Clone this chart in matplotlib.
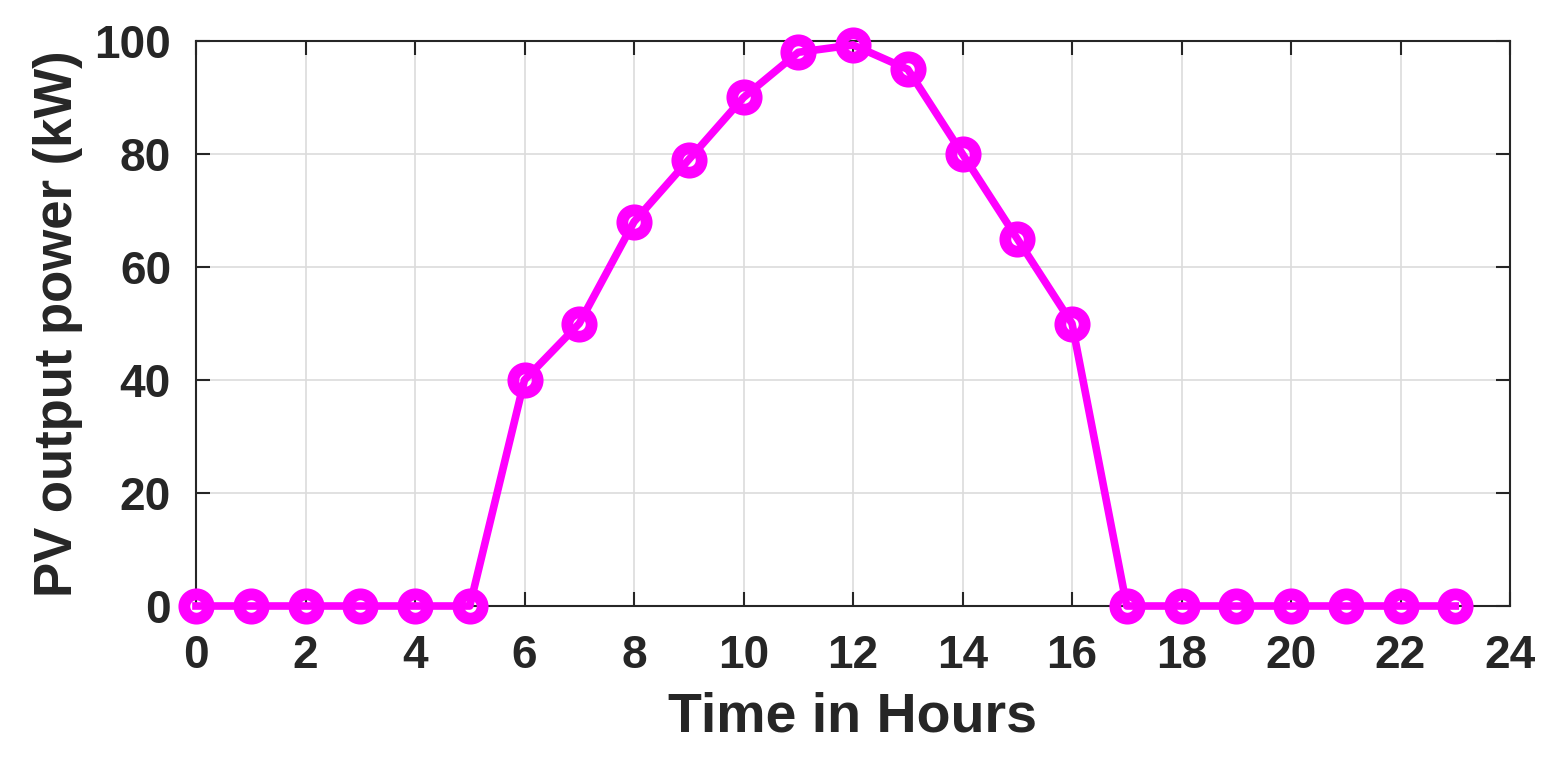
import matplotlib.pyplot as plt
import numpy as np

hours = list(range(24))
pv_power = [0, 0, 0, 0, 0, 0, 40, 50, 68, 79, 90, 98, 99.3, 95, 80, 65, 50,
            0, 0, 0, 0, 0, 0, 0]
xticks = list(range(0, 25, 2))
yticks = list(range(0, 101, 20))

plt.rcParams['font.family'] = ['Liberation Sans', 'DejaVu Sans']
plt.rcParams['font.weight'] = 'bold'

fig = plt.figure(figsize=(15.6, 7.63), dpi=100)
ax = fig.add_axes([196/1560, 1 - 606/763, (1510-196)/1560, (606-41)/763])

ax.plot(hours, pv_power, color='#ff00ff', lw=5.5, marker='o', ms=17.5,
        mfc='none', mec='#ff00ff', mew=8.5, clip_on=False, zorder=3)

ax.set_xlim(0, 24)
ax.set_ylim(0, 100)
ax.set_xticks(xticks)
ax.set_yticks(yticks)
ax.grid(True, color='#dcdcdc', lw=1.2)
ax.set_axisbelow(True)
ax.tick_params(direction='in', length=10, width=1.5, top=True, right=True,
               labelsize=33, colors='#262626')
ax.tick_params(axis='x', pad=20)
ax.tick_params(axis='y', pad=18)
for s in ax.spines.values():
    s.set_linewidth(1.5)
    s.set_color('#262626')

ax.set_xlabel('Time in Hours', fontsize=40, fontweight='bold', color='#262626', labelpad=10)
ax.set_ylabel('PV output power (kW)', fontsize=38, fontweight='bold', color='#262626', labelpad=8)

fig.savefig('out.png', dpi=100)
